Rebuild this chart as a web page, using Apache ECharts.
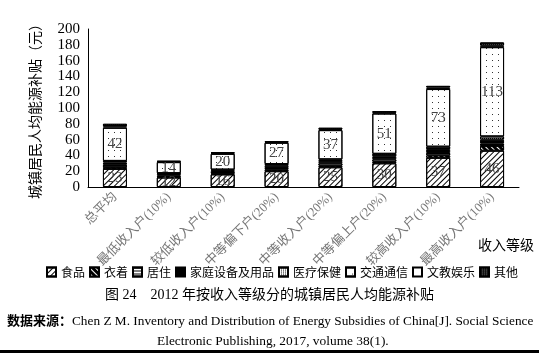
<!DOCTYPE html>
<html>
<head>
<meta charset="utf-8">
<script src="https://cdn.jsdelivr.net/npm/echarts@6/dist/echarts.min.js"></script>
<style>
  html, body { margin: 0; padding: 0; background: #fff; }
  #chart { width: 539px; height: 353px; }
</style>
</head>
<body>
<div id="chart"></div>
<script>
// income groups
const categories = ['总平均', '最低收入户(10%)', '较低收入户(10%)', '中等偏下户(20%)', '中等收入户(20%)', '中等偏上户(20%)', '较高收入户(10%)', '最高收入户(10%)']

// spending categories
const food = [23, 12, 16, 20, 25, 30, 37, 46]
const clothing = [2, 1, 1, 2, 2, 2, 3, 6]
const housing = [3, 1.5, 2, 2, 3, 3, 3, 3]
const household = [3, 2, 2, 3, 3, 4, 5, 5]
const health = [2, 1, 1, 2, 2, 3, 3, 4]
const transport = [42, 14, 20, 27, 37, 51, 73, 113]
const culture = [2, 0.5, 1, 1, 1, 1, 2, 2]
const other = [3, 1, 1, 1, 2, 2, 2, 4]

const yTicks = { min: 0, max: 200, interval: 20 }

const serif = '"Liberation Serif", "Noto Sans CJK SC", serif'
const cjk = '"Noto Sans CJK SC", sans-serif'

const chart = echarts.init(document.getElementById('chart'))

function seg(name, data, color, decal, showLabel) {
  return {
    name: name,
    type: 'bar',
    stack: 'all',
    barWidth: 24,
    data: data,
    animation: false,
    itemStyle: {
      color: color,
      borderColor: '#000',
      borderWidth: 1,
      decal: decal
    },
    label: {
      show: !!showLabel,
      position: 'inside',
      color: '#444',
      fontFamily: serif,
      fontSize: 15
    }
  }
}

chart.setOption({
  backgroundColor: '#fff',
  grid: { left: 88, right: 20, top: 29, bottom: 166 },
  legend: {
    top: 261,
    left: 41,
    width: 495,
    itemWidth: 9,
    itemHeight: 9,
    itemGap: 4,
    icon: 'rect',
    textStyle: { fontFamily: cjk, fontSize: 12, color: '#000' },
    data: ['食品', '衣着', '居住', '家庭设备及用品', '医疗保健', '交通通信', '文教娱乐', '其他']
  },
  xAxis: {
    type: 'category',
    data: categories,
    axisLine: { lineStyle: { color: '#000', width: 1 } },
    axisTick: { inside: true, length: 4, lineStyle: { color: '#000' } },
    axisLabel: { rotate: 45, fontFamily: serif, fontSize: 13, color: '#777', margin: 8 }
  },
  yAxis: {
    type: 'value',
    min: yTicks.min,
    max: yTicks.max,
    interval: yTicks.interval,
    name: '城镇居民人均能源补贴（元）',
    nameLocation: 'middle',
    nameGap: 46,
    nameTextStyle: { fontFamily: cjk, fontSize: 14, color: '#000' },
    splitLine: { show: false },
    axisLine: { show: true, lineStyle: { color: '#000' } },
    axisTick: { show: false },
    axisLabel: { fontFamily: serif, fontSize: 15, color: '#000', margin: 8 }
  },
  series: [
    seg('食品', food, '#fff', { symbol: 'rect', symbolSize: 1, color: '#000', dashArrayX: [1, 0], dashArrayY: [1, 3], rotation: -Math.PI / 4 }, true),
    seg('衣着', clothing, '#000', { symbol: 'rect', symbolSize: 1, color: '#fff', dashArrayX: [1, 0], dashArrayY: [1, 3], rotation: Math.PI / 4 }),
    seg('居住', housing, '#fff', { symbol: 'rect', symbolSize: 1, color: '#000', dashArrayX: [1, 0], dashArrayY: [1, 2], rotation: 0 }),
    seg('家庭设备及用品', household, '#000', null),
    seg('医疗保健', health, '#fff', { symbol: 'rect', symbolSize: 1, color: '#000', dashArrayX: [1, 1], dashArrayY: [1, 1], rotation: 0 }),
    seg('交通通信', transport, '#fff', { symbol: 'rect', symbolSize: 1, color: '#333', dashArrayX: [1, 5], dashArrayY: [1, 5], rotation: 0 }, true),
    seg('文教娱乐', culture, '#fff', null),
    seg('其他', other, '#111', { symbol: 'rect', symbolSize: 1, color: '#666', dashArrayX: [1, 1], dashArrayY: [1, 1], rotation: 0 })
  ],
  graphic: [
    {
      type: 'text', left: 478, top: 238,
      style: { text: '收入等级', font: '14px ' + cjk, fill: '#000' }
    },
    {
      type: 'text', left: 'center', top: 288,
      style: { text: '图 24    2012 年按收入等级分的城镇居民人均能源补贴', font: '14px ' + serif, fill: '#000' }
    },
    {
      type: 'text', left: 7, top: 314,
      style: { text: '数据来源：', font: 'bold 13px ' + cjk, fill: '#000' }
    },
    {
      type: 'text', left: 72, top: 315,
      style: { text: 'Chen Z M. Inventory and Distribution of Energy Subsidies of China[J]. Social Science', font: '13.3px ' + serif, fill: '#000' }
    },
    {
      type: 'text', left: 157, top: 335,
      style: { text: 'Electronic Publishing, 2017, volume 38(1).', font: '13.4px ' + serif, fill: '#000' }
    },
    {
      type: 'rect', shape: { x: 0, y: 350, width: 539, height: 3 },
      style: { fill: '#000' }
    }
  ]
})
</script>
</body>
</html>
